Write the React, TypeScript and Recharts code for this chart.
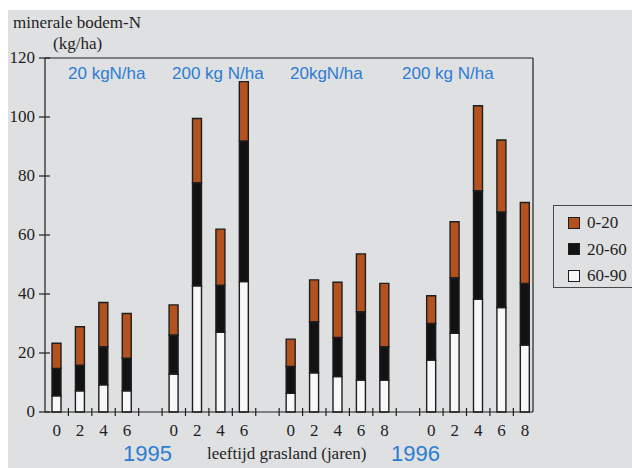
import React from 'react';
import { BarChart, Bar, XAxis, YAxis, ReferenceLine, Legend } from 'recharts';

// slot categories (age of grassland, '' = gap between groups)
const categories = ['0', '2', '4', '6', '', '0', '2', '4', '6', '', '0', '2', '4', '6', '8', '', '0', '2', '4', '6', '8'];
// layer 0-20 cm (top, orange)
const layer0_20 = [8.5, 13.0, 15.0, 15.2, null, 10.2, 21.8, 19.0, 20.1, null, 9.3, 14.2, 18.7, 19.6, 21.5, null, 9.4, 19.0, 28.8, 24.4, 27.4];
// layer 20-60 cm (middle, black)
const layer20_60 = [9.3, 8.7, 12.9, 11.0, null, 13.2, 34.9, 16.0, 47.7, null, 9.1, 17.3, 13.3, 23.2, 11.3, null, 12.4, 18.8, 36.8, 32.4, 20.9];
// layer 60-90 cm (bottom, white)
const layer60_90 = [5.5, 7.2, 9.2, 7.2, null, 12.9, 42.8, 27.0, 44.2, null, 6.3, 13.3, 12.0, 10.8, 10.8, null, 17.6, 26.7, 38.2, 35.4, 22.7];
const yTicks = [0, 20, 40, 60, 80, 100, 120];
const treatmentLabels = ['20 kgN/ha', '200 kg N/ha', '20kgN/ha', '200 kg N/ha'];
const yearLabels = ['1995', '1996'];
const legendLabels = ['0-20', '20-60', '60-90'];

const ORANGE = '#b3521f';
const BLACK = '#121212';
const WHITE = '#f8f8f8';
const INK = '#1e1e1e';
const BLUE = '#2c7dd3';
const BG = '#dfe0e2';
const SERIF = '"Liberation Serif", "DejaVu Serif", serif';
const SANS = '"Liberation Sans", Arial, sans-serif';

const data = categories.map((c, i) => ({
  x: i,
  label: c,
  l0_20: layer0_20[i],
  l20_60: layer20_60[i],
  l60_90: layer60_90[i],
}));

const xTicks: number[] = [];
for (let i = 0; i < categories.length; i++) {
  xTicks.push(i);
  if (i < categories.length - 1) xTicks.push(i + 0.5);
}

const XTick = (props: any) => {
  const { x, y, payload } = props;
  const v = payload.value;
  if (Number.isInteger(v)) {
    return (
      <text x={x} y={y + 18} textAnchor="middle" dominantBaseline="central" fontFamily={SERIF} fontSize={17} fill={INK}>
        {categories[v]}
      </text>
    );
  }
  return <line x1={x} x2={x} y1={y - 4} y2={y + 4} stroke={INK} strokeWidth={1.2} />;
};

const YTick = (props: any) => {
  const { x, y, payload } = props;
  return (
    <g>
      <line x1={x - 6} x2={x + 5} y1={y} y2={y} stroke={INK} strokeWidth={1.2} />
      <text x={x - 10} y={y - 1} textAnchor="end" dominantBaseline="central" fontFamily={SERIF} fontSize={17} fill={INK}>
        {payload.value}
      </text>
    </g>
  );
};

const legendFills = [ORANGE, BLACK, WHITE];

const LegendBox = () => (
  <div style={{ position: 'relative', width: 100, height: 83, border: '1px solid #4a4a4a', boxSizing: 'border-box' }}>
    {legendLabels.map((l, i) => (
      <div key={l} style={{ position: 'absolute', left: 14, top: 10 + i * 26.5, height: 13, display: 'flex', alignItems: 'center' }}>
        <div style={{ width: 10, height: 10, background: legendFills[i], border: `1.4px solid ${INK}` }} />
        <span style={{ marginLeft: 7, fontFamily: SERIF, fontSize: 17, color: INK, lineHeight: '13px', whiteSpace: 'nowrap' }}>{l}</span>
      </div>
    ))}
  </div>
);

export default function App() {
  return (
    <div style={{ position: 'absolute', left: 8, top: 10, width: 624, height: 458, background: BG, overflow: 'hidden' }}>
      <BarChart width={624} height={458} data={data} margin={{ top: 48, right: 99, bottom: 26, left: 0 }}>
        <XAxis
          dataKey="x"
          type="number"
          domain={[-0.5, 20.34]}
          allowDataOverflow
          ticks={xTicks}
          interval={0}
          tick={<XTick />}
          tickLine={false}
          tickSize={0}
          tickMargin={0}
          height={30}
          axisLine={{ stroke: INK, strokeWidth: 1.2 }}
        />
        <YAxis
          type="number"
          domain={[0, 120]}
          ticks={yTicks}
          interval={0}
          width={37}
          tick={<YTick />}
          tickLine={false}
          tickSize={0}
          tickMargin={0}
          axisLine={{ stroke: INK, strokeWidth: 1.2 }}
        />
        <ReferenceLine y={120} stroke={INK} strokeWidth={1.2} />
        <ReferenceLine x={20.34} stroke={INK} strokeWidth={1.2} />
        <Bar dataKey="l60_90" name="60-90" stackId="a" fill={WHITE} stroke={INK} strokeWidth={1.4} barSize={9} isAnimationActive={false} />
        <Bar dataKey="l20_60" name="20-60" stackId="a" fill={BLACK} stroke={INK} strokeWidth={1.4} barSize={9} isAnimationActive={false} />
        <Bar dataKey="l0_20" name="0-20" stackId="a" fill={ORANGE} stroke={INK} strokeWidth={1.4} barSize={9} isAnimationActive={false} />
        <Legend
          layout="horizontal"
          verticalAlign="middle"
          align="center"
          wrapperStyle={{ left: 545, top: 195, width: 100, height: 83 }}
          content={() => <LegendBox />}
        />
      </BarChart>
      <svg width={624} height={458} style={{ position: 'absolute', left: 0, top: 0, pointerEvents: 'none' }}>
        <text x={5} y={18} fontFamily={SERIF} fontSize={17} fill={INK}>minerale bodem-N</text>
        <text x={45} y={39} fontFamily={SERIF} fontSize={17} fill={INK}>(kg/ha)</text>
        <text x={60} y={69} fontFamily={SANS} fontSize={17} fill={BLUE}>{treatmentLabels[0]}</text>
        <text x={164} y={69} fontFamily={SANS} fontSize={17} fill={BLUE}>{treatmentLabels[1]}</text>
        <text x={282} y={69} fontFamily={SANS} fontSize={17} fill={BLUE}>{treatmentLabels[2]}</text>
        <text x={394} y={69} fontFamily={SANS} fontSize={17} fill={BLUE}>{treatmentLabels[3]}</text>
        <text x={115} y={451} fontFamily={SANS} fontSize={22} fill={BLUE}>{yearLabels[0]}</text>
        <text x={199} y={449} fontFamily={SERIF} fontSize={17} fill={INK}>leeftijd grasland (jaren)</text>
        <text x={383} y={451} fontFamily={SANS} fontSize={22} fill={BLUE}>{yearLabels[1]}</text>
      </svg>
    </div>
  );
}
